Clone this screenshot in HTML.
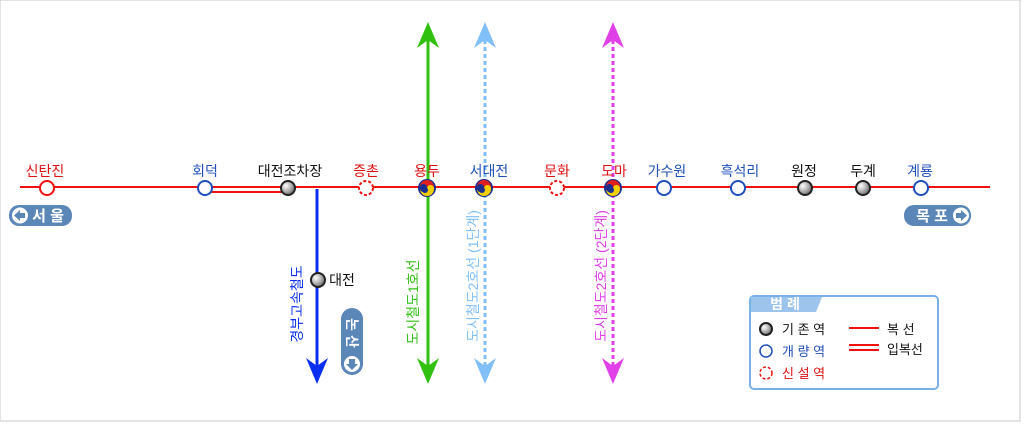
<!DOCTYPE html>
<html><head><meta charset="utf-8"><style>
html,body{margin:0;padding:0;background:#fff;}
svg text{font-family:"Liberation Sans","Noto Sans CJK KR",sans-serif;}
</style></head><body>
<svg width="1024" height="423" xmlns="http://www.w3.org/2000/svg">
<defs>
<radialGradient id="g" cx="0.35" cy="0.35" r="0.7"><stop offset="0" stop-color="#fff"/><stop offset="0.6" stop-color="#aaa"/><stop offset="1" stop-color="#666"/></radialGradient>
<g id="tg">
<circle r="9" fill="#1b2f8f"/>
<path d="M-7,-1 A7,7 0 0 1 7,-1 A3.5,3.5 0 0 1 0,0 A3.5,3.5 0 0 0 -7,-1Z" fill="#e02020"/>
<path d="M-7,1 A3.5,3.5 0 0 0 0,0 A3.5,3.5 0 0 1 7,1 A7,7 0 0 1 -7,1Z" fill="#f2d000"/>
<circle r="3" cx="-2" cy="2" fill="#1b2f8f"/>
</g>
</defs>
<rect x="0" y="0" width="1020" height="421" fill="#fff" stroke="#c8c8c8" stroke-width="1"/>
<line x1="20" y1="187" x2="990" y2="187" stroke="#f01010" stroke-width="2"/>
<line x1="205" y1="192" x2="288" y2="192" stroke="#f01010" stroke-width="2"/>
<line x1="317" y1="189" x2="317" y2="368" stroke="#0a2ff0" stroke-width="3"/>
<polygon points="306,358 317,366 328,358 317,384" fill="#0a2ff0"/>
<line x1="428" y1="40" x2="428" y2="368" stroke="#30c010" stroke-width="3"/>
<polygon points="417,48 428,40 439,48 428,22" fill="#30c010"/>
<polygon points="417,358 428,366 439,358 428,384" fill="#30c010"/>
<line x1="485" y1="40" x2="485" y2="368" stroke="#80bff8" stroke-width="3" stroke-dasharray="4,3"/>
<polygon points="474,48 485,40 496,48 485,22" fill="#80bff8"/>
<polygon points="474,358 485,366 496,358 485,384" fill="#80bff8"/>
<line x1="613" y1="40" x2="613" y2="368" stroke="#e040e8" stroke-width="3" stroke-dasharray="4,3"/>
<polygon points="602,48 613,40 624,48 613,22" fill="#e040e8"/>
<polygon points="602,358 613,366 624,358 613,384" fill="#e040e8"/>
<g stroke-width="2">
<circle cx="47" cy="188" r="7" fill="#fff" stroke="#f01010"/>
<circle cx="205" cy="188" r="7" fill="#fff" stroke="#1f4fb8"/>
<circle cx="288" cy="188" r="7" fill="url(#g)" stroke="#222"/>
<circle cx="366" cy="188" r="7" fill="#fff" stroke="#f01010" stroke-dasharray="3,2"/>
<circle cx="557" cy="188" r="7" fill="#fff" stroke="#f01010" stroke-dasharray="3,2"/>
<circle cx="664" cy="188" r="7" fill="#fff" stroke="#1f4fb8"/>
<circle cx="738" cy="188" r="7" fill="#fff" stroke="#1f4fb8"/>
<circle cx="805" cy="188" r="7" fill="url(#g)" stroke="#222"/>
<circle cx="863" cy="188" r="7" fill="url(#g)" stroke="#222"/>
<circle cx="921" cy="188" r="7" fill="#fff" stroke="#1f4fb8"/>
<circle cx="318" cy="280" r="7" fill="url(#g)" stroke="#222"/>
</g>
<use href="#tg" x="427" y="188"/>
<use href="#tg" x="484" y="188"/>
<use href="#tg" x="613" y="188"/>
<g font-size="14" text-anchor="middle">
<text x="45" y="176" fill="#e01010">신탄진</text>
<text x="205" y="176" fill="#1f4fb8">회덕</text>
<text x="290" y="176" fill="#111">대전조차장</text>
<text x="366" y="176" fill="#e01010">증촌</text>
<text x="427" y="176" fill="#e01010">용두</text>
<text x="489" y="176" fill="#1f4fb8">서대전</text>
<text x="557" y="176" fill="#e01010">문화</text>
<text x="614" y="176" fill="#e01010">도마</text>
<text x="667" y="176" fill="#1f4fb8">가수원</text>
<text x="740" y="176" fill="#1f4fb8">흑석리</text>
<text x="804" y="176" fill="#111">원정</text>
<text x="863" y="176" fill="#111">두계</text>
<text x="920" y="176" fill="#1f4fb8">계룡</text>
<text x="342" y="285" fill="#111">대전</text>
</g>
<g font-size="14" text-anchor="middle">
<text transform="translate(302,304) rotate(-90)" fill="#0a2ff0">경부고속철도</text>
<text transform="translate(418,302) rotate(-90)" fill="#30c010">도시철도1호선</text>
<text transform="translate(478,276) rotate(-90)" fill="#80bff8">도시철도2호선 (1단계)</text>
<text transform="translate(606,276) rotate(-90)" fill="#e040e8">도시철도2호선 (2단계)</text>
</g>
<rect x="9" y="205" width="63" height="21" rx="10" fill="#5a86b8"/>
<circle cx="20" cy="215.5" r="8" fill="#fff"/>
<polygon points="14,215.5 20,210 20,213 25,213 25,218 20,218 20,221" fill="#5a86b8"/>
<text x="48" y="221" font-size="15" fill="#fff" text-anchor="middle" font-weight="bold">서 울</text>
<rect x="904" y="205" width="67" height="21" rx="10" fill="#5a86b8"/>
<circle cx="961" cy="215.5" r="8" fill="#fff"/>
<polygon points="967,215.5 961,210 961,213 956,213 956,218 961,218 961,221" fill="#5a86b8"/>
<text x="932" y="221" font-size="15" fill="#fff" text-anchor="middle" font-weight="bold">목 포</text>
<rect x="341" y="308" width="22" height="67" rx="11" fill="#5a86b8"/>
<circle cx="352" cy="364" r="8" fill="#fff"/>
<polygon points="352,370 346,364 349,364 349,359 355,359 355,364 358,364" fill="#5a86b8"/>
<text transform="translate(347,333) rotate(90)" font-size="14" fill="#fff" text-anchor="middle" font-weight="bold">논 산</text>
<rect x="750" y="296" width="188" height="93" rx="4" fill="#fff" stroke="#7ab0e8" stroke-width="2"/>
<path d="M751,297 L822,297 L816,312 L751,312Z" fill="#9cc4ec"/>
<text x="785" y="309" font-size="14" fill="#fff" text-anchor="middle" font-weight="bold">범 례</text>
<circle cx="766" cy="329" r="6" fill="url(#g)" stroke="#222" stroke-width="2"/>
<circle cx="766" cy="351" r="6" fill="#fff" stroke="#1f4fb8" stroke-width="1.5"/>
<circle cx="766" cy="373" r="6" fill="#fff" stroke="#f01010" stroke-width="1.5" stroke-dasharray="3,2"/>
<g font-size="13">
<text x="782" y="334" fill="#111">기 존 역</text>
<text x="782" y="356" fill="#1f4fb8">개 량 역</text>
<text x="782" y="378" fill="#e01010">신 설 역</text>
<text x="887" y="334" fill="#111">복 선</text>
<text x="887" y="354" fill="#111">입복선</text>
</g>
<line x1="849" y1="328" x2="879" y2="328" stroke="#f01010" stroke-width="2"/>
<line x1="849" y1="345" x2="879" y2="345" stroke="#f01010" stroke-width="2"/>
<line x1="849" y1="350" x2="879" y2="350" stroke="#f01010" stroke-width="2"/>
</svg>
</body></html>
